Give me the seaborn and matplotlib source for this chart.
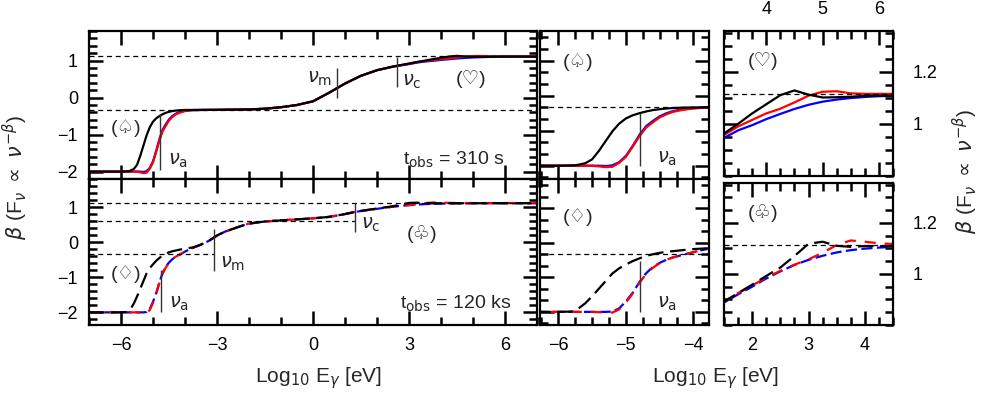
import numpy as np
import pandas as pd
import seaborn as sns
import matplotlib.pyplot as plt
from matplotlib.ticker import MultipleLocator


# ---- spectra at t_obs = 310 s (solid) ----
x_top = [-7.0, -6.0, -5.75, -5.6, -5.5, -5.4, -5.3, -5.2, -5.1, -5.0,
         -4.9, -4.8, -4.7, -4.6, -4.5, -4.4, -4.3, -4.2, -4.1, -4.0,
         -3.9, -3.75, -3.5, -3.0, -2.5, -2.0, -1.5, -1.0, -0.5, 0.0,
         0.5, 1.0, 1.5, 2.0, 2.5, 3.0, 3.25, 3.5, 3.75, 4.0,
         4.25, 4.5, 4.75, 5.0, 5.25, 5.5, 5.75, 6.0, 6.25, 6.5, 7.0]
black_top = [-2.0, -2.0, -1.99, -1.93, -1.82, -1.58, -1.30, -1.02, -0.80, -0.65,
             -0.56, -0.50, -0.45, -0.41, -0.385, -0.365, -0.352, -0.344, -0.338, -0.335,
             -0.334, -0.333, -0.332, -0.33, -0.325, -0.32, -0.30, -0.26, -0.20, -0.10,
             0.13, 0.38, 0.59, 0.74, 0.84, 0.92, 0.963, 1.0, 1.04, 1.075,
             1.11, 1.128, 1.112, 1.101, 1.102, 1.104, 1.107, 1.108, 1.108, 1.108, 1.108]
red_top = [-2.0, -2.0, -2.0, -2.0, -2.0, -2.02, -2.04, -2.03, -1.92, -1.75,
           -1.46, -1.16, -0.91, -0.76, -0.62, -0.53, -0.46, -0.42, -0.39, -0.365,
           -0.35, -0.34, -0.335, -0.33, -0.325, -0.32, -0.30, -0.26, -0.20, -0.10,
           0.13, 0.38, 0.59, 0.74, 0.84, 0.915, 0.957, 0.99, 1.015, 1.04,
           1.058, 1.082, 1.108, 1.123, 1.125, 1.117, 1.115, 1.115, 1.115, 1.115, 1.115]
blue_top = [-2.0, -2.0, -2.0, -2.0, -2.0, -2.0, -2.01, -1.99, -1.90, -1.72,
            -1.44, -1.12, -0.87, -0.72, -0.59, -0.50, -0.44, -0.40, -0.375, -0.355,
            -0.345, -0.338, -0.334, -0.33, -0.325, -0.32, -0.30, -0.26, -0.20, -0.10,
            0.13, 0.38, 0.59, 0.74, 0.835, 0.905, 0.946, 0.975, 0.995, 1.018,
            1.038, 1.057, 1.073, 1.085, 1.093, 1.099, 1.103, 1.106, 1.107, 1.108, 1.108]

# ---- spectra at t_obs = 120 ks (dashed) ----
x_bot = [-7.0, -6.0, -5.8, -5.7, -5.6, -5.5, -5.4, -5.3, -5.2, -5.1,
         -5.0, -4.9, -4.8, -4.7, -4.6, -4.5, -4.4, -4.3, -4.2, -4.1,
         -4.0, -3.9, -3.75, -3.5, -3.25, -3.0, -2.75, -2.5, -2.25, -2.0,
         -1.5, -1.0, -0.5, 0.0, 0.5, 1.0, 1.25, 1.5, 1.75, 2.0,
         2.25, 2.5, 2.75, 3.0, 3.25, 3.5, 3.75, 4.0, 4.25, 4.5,
         5.0, 5.5, 6.0, 6.5, 7.0]
black_bot = [-2.0, -2.0, -1.99, -1.90, -1.75, -1.55, -1.33, -1.11, -0.89, -0.74,
             -0.63, -0.53, -0.45, -0.38, -0.33, -0.29, -0.26, -0.24, -0.22, -0.20,
             -0.18, -0.17, -0.15, -0.07, 0.04, 0.19, 0.30, 0.38, 0.46, 0.53,
             0.59, 0.62, 0.65, 0.68, 0.72, 0.80, 0.85, 0.892, 0.925, 0.958,
             0.992, 1.025, 1.07, 1.118, 1.126, 1.11, 1.106, 1.109, 1.109, 1.109,
             1.11, 1.11, 1.11, 1.11, 1.11]
red_bot = [-2.0, -2.0, -2.0, -2.0, -2.0, -2.0, -2.01, -2.02, -2.02, -1.93,
           -1.73, -1.47, -1.16, -0.90, -0.72, -0.59, -0.49, -0.42, -0.37, -0.32,
           -0.27, -0.22, -0.16, -0.07, 0.04, 0.19, 0.30, 0.38, 0.46, 0.53,
           0.59, 0.62, 0.65, 0.68, 0.72, 0.80, 0.85, 0.892, 0.925, 0.955,
           0.985, 1.012, 1.036, 1.057, 1.083, 1.113, 1.131, 1.126, 1.12, 1.117,
           1.115, 1.115, 1.115, 1.115, 1.115]
blue_bot = [-2.0, -2.0, -2.0, -2.0, -2.0, -2.0, -2.0, -2.0, -1.99, -1.90,
            -1.70, -1.45, -1.14, -0.88, -0.70, -0.58, -0.49, -0.42, -0.37, -0.32,
            -0.27, -0.22, -0.16, -0.07, 0.04, 0.19, 0.30, 0.38, 0.46, 0.53,
            0.59, 0.62, 0.65, 0.68, 0.72, 0.80, 0.85, 0.888, 0.92, 0.95,
            0.982, 1.01, 1.035, 1.055, 1.071, 1.084, 1.093, 1.099, 1.103, 1.106,
            1.108, 1.11, 1.11, 1.11, 1.11]

# asymptotic slopes (p = 2.23) and break frequencies
beta_low, beta_mid, beta_high = -1 / 3, 0.61, 1.115
# (x, ymin, ymax) of the break markers
breaks_top = {"a": (-4.77, -1.97, -0.43), "m": (0.75, 0.0, 0.81), "c": (2.63, 0.3, 1.1)}
breaks_bot = {"a": (-4.75, -2.0, -0.8), "m": (-3.1, -0.82, 0.38), "c": (1.31, 0.3, 1.13)}
zoom_a_top = (-4.79, -2.0, -0.5)
zoom_a_bot = (-4.79, -2.0, -0.52)

top = pd.DataFrame({"x": x_top, "black": black_top, "red": red_top, "blue": blue_top})
bot = pd.DataFrame({"x": x_bot, "black": black_bot, "red": red_bot, "blue": blue_bot})

sns.set_theme(style="ticks")
plt.rcParams["font.family"] = ["Liberation Sans", "DejaVu Sans"]
plt.rcParams["mathtext.fontset"] = "dejavusans"
plt.rcParams["axes.linewidth"] = 1.6
plt.rcParams["axes.edgecolor"] = "black"

W, H = 981, 396
fig = plt.figure(figsize=(W / 100, H / 100), dpi=100)


def box(x0, x1, y0, y1):
    return fig.add_axes([x0 / W, 1 - y1 / H, (x1 - x0) / W, (y1 - y0) / H])


def ticks(ax, xmaj, xmin, ymin):
    ax.xaxis.set_major_locator(MultipleLocator(xmaj))
    ax.xaxis.set_minor_locator(MultipleLocator(xmin))
    ax.yaxis.set_minor_locator(MultipleLocator(ymin))
    ax.tick_params(which="both", direction="in", top=True, right=True, bottom=True, left=True,
                   color="black", width=1.8, labelsize=13, labelcolor="black")
    ax.tick_params(which="major", length=10)
    ax.tick_params(which="minor", length=6)
    ax.tick_params(axis="x", which="major", pad=9)
    ax.tick_params(axis="y", which="major", pad=8)


solid = {"blue": "-", "red": "-", "black": "-"}
dashed = {"blue": (0, (5, 2)), "red": (0, (5, 4)), "black": (0, (7, 3))}


def draw(ax, df, styles):
    for col in ["blue", "red", "black"]:
        sns.lineplot(data=df, x="x", y=col, color=col, lw=1.6, linestyle=styles[col],
                     estimator=None, sort=False, ax=ax)
    ax.set(xlabel="", ylabel="")


def mark(ax, brk):
    x, y0, y1 = brk
    ax.vlines(x, y0, y1, color="#333333", lw=1.0)


guide = dict(color="black", lw=0.9, ls=(0, (4, 3)))
FS = 14
SS = 14

# ---- left panels ----
ax1 = box(89, 537, 31, 179)
ax2 = box(89, 537, 179, 325)
for ax, df, st, ylim in [(ax1, top, solid, (-2.2, 1.8)), (ax2, bot, dashed, (-2.36, 1.8))]:
    draw(ax, df, st)
    ax.set_xlim(-7, 7)
    ax.set_ylim(*ylim)
    ax.yaxis.set_major_locator(MultipleLocator(1))
    ticks(ax, 3, 1, 0.2)
ax1.tick_params(labelbottom=False)

ax1.axhline(beta_high, **guide)
ax1.axhline(beta_low, **guide)
for k in "amc":
    mark(ax1, breaks_top[k])
ax1.text(breaks_top["a"][0] + 0.25, -1.7, r"$\nu_{\rm a}$", fontsize=FS, va="center")
ax1.text(breaks_top["m"][0] - 0.15, 0.52, r"$\nu_{\rm m}$", fontsize=FS, va="center", ha="right")
ax1.text(breaks_top["c"][0] + 0.15, 0.43, r"$\nu_{\rm c}$", fontsize=FS, va="center")
ax1.text(-5.85, -0.83, "(\u2664)", fontsize=SS, ha="center", va="center")
ax1.text(4.94, 0.49, "(\u2661)", fontsize=SS, ha="center", va="center")
ax1.text(6.0, -1.67, r"t$_{\rm obs}$ = 310 s", fontsize=FS, ha="right", va="center")

ax2.axhline(beta_high, **guide)
ax2.hlines(beta_mid, -7, breaks_bot["c"][0], **guide)
ax2.hlines(beta_low, -7, breaks_bot["m"][0], **guide)
for k in "amc":
    mark(ax2, breaks_bot[k])
ax2.text(breaks_bot["a"][0] + 0.25, -1.77, r"$\nu_{\rm a}$", fontsize=FS, va="center")
ax2.text(breaks_bot["m"][0] + 0.2, -0.62, r"$\nu_{\rm m}$", fontsize=FS, va="center")
ax2.text(breaks_bot["c"][0] + 0.2, 0.49, r"$\nu_{\rm c}$", fontsize=FS, va="center")
ax2.text(-5.84, -0.9, "(\u2662)", fontsize=SS, ha="center", va="center")
ax2.text(3.4, 0.24, "(\u2667)", fontsize=SS, ha="center", va="center")
ax2.text(6.2, -1.77, r"t$_{\rm obs}$ = 120 ks", fontsize=FS, ha="right", va="center")

# ---- middle panels (zoom on nu_a) ----
ax3 = box(540, 709, 31, 179)
ax4 = box(540, 709, 179, 325)
for ax, df, st in [(ax3, top, solid), (ax4, bot, dashed)]:
    draw(ax, df, st)
    ax.set_xlim(-6.27, -3.77)
    ax.set_ylim(-2.38, 1.85)
    ax.yaxis.set_major_locator(MultipleLocator(1))
    ax.axhline(beta_low, **guide)
    ticks(ax, 1, 0.25, 1 / 3)
    ax.tick_params(labelleft=False)
ax3.tick_params(labelbottom=False)
mark(ax3, zoom_a_top)
mark(ax4, zoom_a_bot)
ax3.text(-4.39, -1.8, r"$\nu_{\rm a}$", fontsize=FS, ha="center", va="center")
ax4.text(-4.39, -1.77, r"$\nu_{\rm a}$", fontsize=FS, ha="center", va="center")
ax3.text(-5.7, 0.95, "(\u2664)", fontsize=SS, ha="center", va="center")
ax4.text(-5.7, 0.75, "(\u2662)", fontsize=SS, ha="center", va="center")

# ---- right panels (zoom on the high-energy end) ----
ax5 = box(724, 893, 31, 176)
ax6 = box(724, 893, 183, 325)
for ax, df, st, xlim in [(ax5, top, solid, (3.25, 6.25)), (ax6, bot, dashed, (1.5, 4.5))]:
    draw(ax, df, st)
    ax.set_xlim(*xlim)
    ax.set_ylim(0.8, 1.356)
    ax.set_yticks([1.0, 1.2], labels=["1", "1.2"])
    ax.axhline(beta_high, **guide)
    ticks(ax, 1, 0.25, 0.05)
    ax.tick_params(axis="y", labelleft=False, labelright=True, pad=14)
ax5.tick_params(axis="x", labelbottom=False, labeltop=True)
ax5.text(3.94, 1.24, "(\u2661)", fontsize=SS, ha="center", va="center")
ax6.text(2.19, 1.24, "(\u2667)", fontsize=SS, ha="center", va="center")

# ---- axis titles ----
xlab = r"Log$_{10}$ E$_\gamma$ [eV]"
ylab = r"$\beta$ (F$_\nu$ $\propto$ $\nu^{-\beta}$)"
fig.text(318 / W, 1 - 378 / H, xlab, fontsize=15, ha="center", va="center")
fig.text(715 / W, 1 - 378 / H, xlab, fontsize=15, ha="center", va="center")
fig.text(15 / W, 1 - 178 / H, ylab, fontsize=15, rotation=90, ha="center", va="center")
fig.text(965 / W, 1 - 172 / H, ylab, fontsize=15, rotation=90, ha="center", va="center")

fig.savefig("out.png", dpi=100)
